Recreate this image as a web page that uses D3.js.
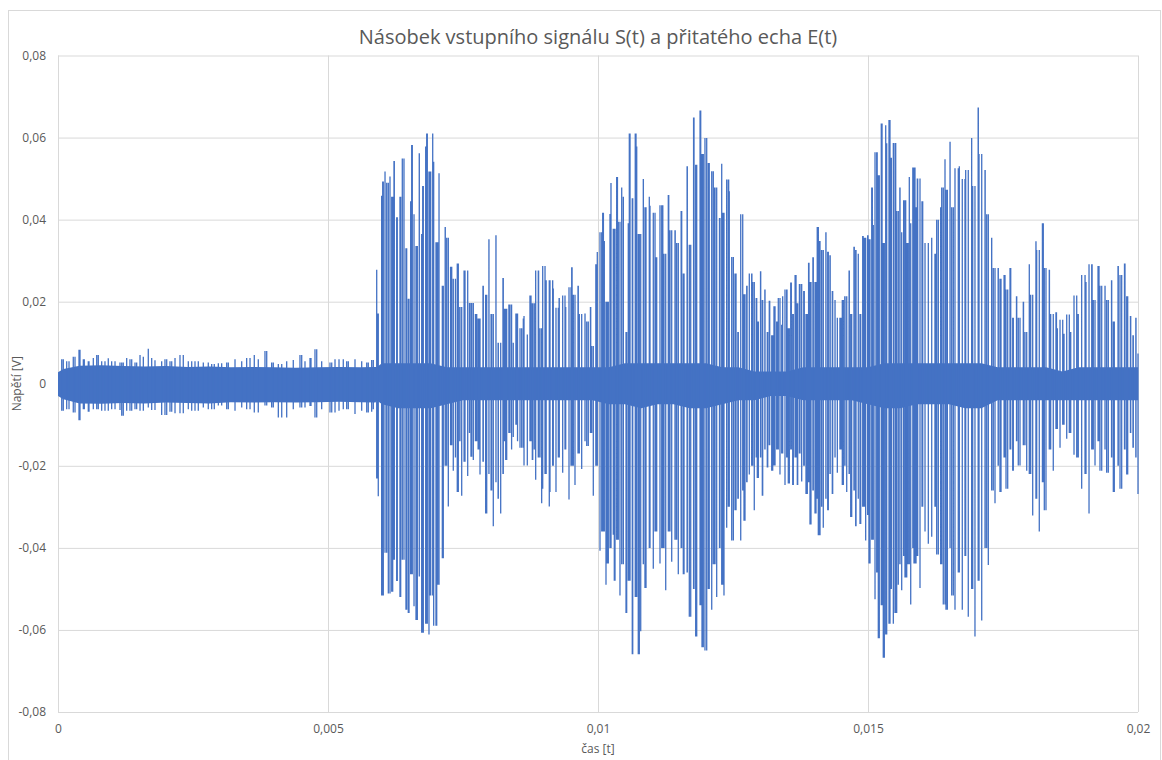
<!DOCTYPE html>
<html>
<head>
<meta charset="utf-8">
<script src="https://cdn.jsdelivr.net/npm/d3@7"></script>
<style>
  body { margin: 0; background: #fff; }
  svg text { font-family: "Open Sans", "Noto Sans", sans-serif; fill: #595959; }
</style>
</head>
<body>
<svg id="chart" width="1162" height="760"></svg>
<script>
// Times are in milliseconds, voltages in millivolts.
const xTicks = [0, 0.005, 0.01, 0.015, 0.02];           // s
const yTicks = [-0.08, -0.06, -0.04, -0.02, 0, 0.02, 0.04, 0.06, 0.08]; // V

// Solid core of the trace (upper / lower edge of the dense band)
const bandTime = [0,0.1,0.4,0.8,1.2,1.6,2.0,2.4,2.8,3.2,3.6,4.0,4.4,4.8,5.2,5.6,5.88,
  5.9,6.0,6.3,6.6,6.9,7.2,7.5,7.8,8.1,8.4,8.7,9.0,9.3,9.6,9.9,10.2,10.5,10.8,11.1,11.4,11.7,12.0,
  12.3,12.6,12.9,13.2,13.5,13.8,14.1,14.4,14.7,15.0,15.3,15.6,15.9,16.2,16.5,16.8,17.1,17.4,17.7,
  18.0,18.3,18.6,18.9,19.2,19.5,19.8,20];
const bandHigh = [2.8,3.6,4.4,4.5,4.3,4.2,4.3,4.1,4.2,4.0,4.1,4.0,3.9,4.0,4.1,4.0,4.1,
  4,5, 5,5,5,4,4,4,4,4,4,4,4,4,4, 4,5,5,5,5,5,5,4, 4,3,3,3,4,4,4,4, 4,5,5,5,5,5,5,5,
  4,4,4,4,3,4,4,4,4, 4];
const bandLow = [-3.0,-3.8,-4.8,-4.9,-4.7,-4.8,-4.6,-4.7,-4.8,-4.5,-4.6,-4.5,-4.6,-4.5,-4.4,-4.5,-4.6,
  -4,-5, -6,-6,-6,-5,-4,-4,-4,-4,-4,-4,-4,-4,-4, -5,-5,-6,-5,-5,-6,-6,-5, -4,-4,-3,-3,-4,-4,-4,-4,
  -5,-6,-6,-5,-5,-5,-6,-6, -4,-4,-4,-4,-4,-4,-4,-4,-4, -4];

// Noise extremes before the echo arrives [ms, mV]
const noiseHigh = [[0.098,6.0],[0.204,5.5],[0.315,6.6],[0.389,8.3],[0.469,6.0],[0.574,5.5],[0.654,6.3],
  [0.746,7.0],[0.809,5.5],[0.931,6.2],[1.056,5.5],[1.180,5.2],[1.272,6.3],[1.365,6.0],[1.426,5.2],
  [1.519,7.0],[1.580,6.6],[1.672,8.5],[1.735,6.3],[1.796,5.7],[1.920,5.5],[2.013,6.0],[2.106,5.5],
  [2.167,6.3],[2.320,7.0],[2.413,5.5],[2.476,5.5],[2.598,5.5],[2.691,5.2],[2.783,5.2],[2.894,4.8],
  [3.031,5.0],[3.154,5.2],[3.278,6.0],[3.402,5.5],[3.494,6.3],[3.635,7.0],[3.709,6.0],[3.865,8.0],
  [3.987,5.2],[4.143,4.8],[4.235,5.5],[4.357,5.8],[4.481,7.0],[4.574,5.5],[4.685,6.3],[4.791,8.4],
  [4.883,5.5],[5.037,5.2],[5.130,6.0],[5.283,6.0],[5.376,5.5],[5.500,6.0],[5.624,5.5],[5.717,5.2],
  [5.809,5.8]];
const noiseLow = [[0.069,-6.6],[0.161,-6.2],[0.283,-7.0],[0.407,-8.9],[0.487,-6.2],[0.561,-6.8],
  [0.717,-6.2],[0.870,-6.6],[0.994,-6.2],[1.148,-6.4],[1.209,-7.8],[1.333,-6.6],[1.457,-6.2],
  [1.580,-6.6],[1.672,-5.8],[1.796,-6.4],[1.981,-7.6],[2.074,-6.8],[2.259,-7.2],[2.413,-6.2],
  [2.537,-6.6],[2.691,-5.8],[2.846,-6.2],[2.969,-5.3],[3.124,-6.2],[3.278,-6.6],[3.402,-5.8],
  [3.556,-6.2],[3.709,-7.0],[3.833,-5.3],[3.957,-5.8],[4.080,-8.2],[4.235,-8.2],[4.357,-6.2],
  [4.513,-5.8],[4.667,-5.4],[4.759,-8.2],[4.883,-6.2],[5.069,-7.0],[5.204,-6.6],[5.346,-6.2],
  [5.500,-7.4],[5.624,-6.6],[5.746,-7.0],[5.809,-6.8],[5.839,-6.2]];

// Extremes of the signal x echo product [ms, mV]
const echoHigh = [[5.902,27.8],[5.920,17.1],[5.994,45.8],[6.013,49.3],[6.056,51.7],[6.087,49],[6.148,50.5],
  [6.180,45.6],[6.228,54.3],[6.272,40.6],[6.333,45.6],[6.407,54.9],[6.444,33],[6.487,20.7],[6.531,44.5],
  [6.561,58.2],[6.593,41.3],[6.654,33.6],[6.691,56.2],[6.735,36.5],[6.765,48.2],[6.809,57.8],[6.839,61],
  [6.889,51.7],[6.939,61],[6.957,54.1],[7.013,34.5],[7.056,51.3],[7.135,23.9],[7.172,38.2],[7.198,35.6],
  [7.291,28.5],[7.320,25.6],[7.413,29.3],[7.444,18.7],[7.537,27.6],[7.648,19.7],[7.754,17],[7.796,15.9],
  [7.876,23.9],[7.920,21.7],[7.981,35.2],[8.031,17],[8.111,36.2],[8.154,10],[8.246,25.8],[8.291,18.3],
  [8.370,19.3],[8.431,10],[8.494,17.1],[8.587,13.5],[8.617,15.9],[8.630,16.5],[8.691,12],[8.759,21.5],
  [8.784,19.6],[8.894,27.6],[8.926,13.5],[9.019,28.7],[9.037,25.2],[9.161,25.2],[9.172,23.2],[9.265,18.5],
  [9.283,20.9],[9.389,21.5],[9.402,18.7],[9.500,23.5],[9.513,28.4],[9.543,21.7],[9.635,23.9],[9.654,17],
  [9.759,17.1],[9.791,15.2],[9.865,18.7],[9.883,9.2],[9.976,29.1],[9.987,32.1],[10.069,36.9],[10.087,41.7],
  [10.117,34.8],[10.172,20],[10.222,41.4],[10.241,48.9],[10.302,37.8],[10.346,50.4],[10.376,39.5],
  [10.439,47.8],[10.469,45.6],[10.519,12.6],[10.561,39.1],[10.593,61],[10.635,45.2],[10.704,61],
  [10.717,57.8],[10.765,36.5],[10.839,49.9],[10.870,43],[10.950,45.6],[10.963,43.4],[11.056,41.7],
  [11.087,30.8],[11.180,43.5],[11.222,31.7],[11.302,46],[11.333,37.4],[11.426,37.4],[11.457,34.3],
  [11.550,42.1],[11.580,26.9],[11.654,53],[11.691,33.9],[11.778,64.9],[11.809,53.4],[11.902,66.6],
  [11.926,56],[12.013,59.9],[12.043,53.8],[12.135,51.8],[12.167,47.8],[12.259,40.4],[12.291,53.6],
  [12.309,41.7],[12.413,49.8],[12.431,46.9],[12.506,30.9],[12.556,26.9],[12.598,12.6],[12.680,41.3],
  [12.704,21.8],[12.754,23.9],[12.846,26.9],[12.865,24.8],[12.939,20.9],[12.950,15.2],[13.013,27.4],
  [13.043,20.4],[13.093,23],[13.143,12.6],[13.172,20.2],[13.235,11.8],[13.259,18.9],[13.309,15.2],
  [13.339,20.9],[13.402,14.4],[13.420,21.3],[13.494,23],[13.524,13.5],[13.569,24.7],[13.606,17],
  [13.667,26.5],[13.698,19.6],[13.741,24.3],[13.820,22.6],[13.876,17],[13.907,29.5],[13.926,24.8],
  [13.987,30.8],[14.037,24.8],[14.080,38.2],[14.111,34.8],[14.143,32.6],[14.222,36.9],[14.254,32.2],
  [14.296,31.3],[14.339,22.6],[14.389,20.4],[14.432,16.1],[14.500,16.1],[14.543,20.4],[14.574,21.3],
  [14.654,27.6],[14.680,17],[14.746,33.4],[14.772,32.6],[14.820,31.7],[14.852,17],[14.902,36],
  [14.932,35.6],[14.994,36.2],[15.019,35.2],[15.069,47.8],[15.098,38.7],[15.161,56.4],[15.191,50.8],
  [15.246,63.4],[15.283,34.3],[15.328,63],[15.346,58.6],[15.407,64.3],[15.432,55.1],[15.500,58.7],
  [15.531,42.1],[15.593,47.8],[15.624,36.9],[15.685,44.7],[15.717,34.3],[15.765,50.4],[15.791,39.1],
  [15.852,52.7],[15.889,43],[15.913,50],[16.013,44.5],[16.056,34.3],[16.180,35.6],[16.254,31.7],
  [16.272,40],[16.346,43],[16.365,47.8],[16.426,54.7],[16.444,47.3],[16.519,59],[16.550,43],
  [16.672,52.5],[16.691,53],[16.796,49.9],[16.809,52.1],[16.920,59.9],[16.939,48.2],[17.043,67.3],
  [17.056,56],[17.167,52.1],[17.198,41.3],[17.291,35.6],[17.320,28.2],[17.413,28.2],[17.444,25.6],
  [17.537,26.5],[17.556,23],[17.643,28.2],[17.691,16.1],[17.754,21.3],[17.783,16.1],[17.876,20],
  [17.907,12.6],[17.987,29.1],[18.013,21.7],[18.111,34.7],[18.124,32.6],[18.246,39.1],[18.265,28.2],
  [18.357,27.8],[18.383,17],[18.481,17.4],[18.506,13.5],[18.606,15.6],[18.630,12.2],[18.728,16.9],
  [18.754,12.6],[18.865,21.5],[18.894,17],[19.019,26.5],[19.037,24.8],[19.143,29.1],[19.172,20.4],
  [19.278,28.7],[19.296,23.9],[19.389,23.9],[19.420,20.4],[19.513,25.2],[19.543,15.2],[19.635,28.7],
  [19.667,26.5],[19.759,29.3],[19.791,21.3],[19.865,16.5],[19.907,11.8],[19.963,16.1],[20.000,7.4]];
const echoLow = [[5.913,-23.1],[5.931,-27.4],[6.024,-51.6],[6.087,-41.2],[6.117,-51.1],[6.198,-50.7],
  [6.222,-42.9],[6.283,-48.1],[6.346,-52],[6.376,-42.9],[6.457,-55.1],[6.500,-55.9],[6.550,-46.4],
  [6.593,-54.2],[6.630,-57.6],[6.69,-47],[6.754,-60.7],[6.828,-58.5],[6.870,-61.1],[6.902,-51.6],
  [7.000,-59],[7.031,-49],[7.117,-42.5],[7.17,-20],[7.228,-29.9],[7.27,-15],[7.320,-21.2],[7.36,-18],
  [7.394,-26.4],[7.44,-14],[7.476,-27.3],[7.52,-19],[7.587,-22.5],[7.62,-12],[7.661,-17.8],[7.691,-18.6],
  [7.73,-14],[7.78,-16],[7.815,-22.1],[7.87,-19],[7.939,-31.6],[7.98,-22],[8.02,-26],[8.061,-34.7],
  [8.11,-24],[8.15,-28],[8.198,-31.6],[8.24,-22],[8.27,-14],[8.309,-18.6],[8.35,-12],[8.40,-16],
  [8.431,-13],[8.48,-10],[8.51,-14],[8.556,-15.6],[8.691,-19.9],[8.74,-14],[8.791,-18.6],[8.82,-16],
  [8.846,-23.4],[8.90,-18],[8.957,-29.1],[8.976,-25.6],[9.04,-22],[9.098,-29.9],[9.111,-26.4],[9.16,-20],
  [9.222,-26.4],[9.28,-18],[9.346,-21.7],[9.40,-16],[9.463,-28.2],[9.52,-20],[9.574,-24.7],[9.63,-17],
  [9.698,-20.8],[9.76,-14],[9.820,-15.2],[9.86,-12],[9.913,-27.3],[9.96,-20],[10.037,-40.7],[10.10,-36],
  [10.148,-49],[10.191,-43.8],[10.24,-40],[10.283,-36.8],[10.315,-48],[10.36,-38],[10.407,-51.6],
  [10.47,-44],[10.531,-55.9],[10.58,-48],[10.643,-65.9],[10.69,-52],[10.746,-65.9],[10.791,-60.3],
  [10.84,-44],[10.889,-49.8],[10.95,-40],[11.024,-45.1],[11.08,-36],[11.148,-43.8],[11.20,-40],
  [11.254,-50.3],[11.31,-36],[11.365,-43.4],[11.43,-38],[11.487,-46.4],[11.54,-40],[11.593,-46.4],
  [11.65,-46],[11.717,-56.8],[11.77,-50],[11.828,-61.6],[11.89,-54],[11.950,-64.2],[11.981,-65],
  [12.06,-50],[12.106,-55.1],[12.16,-44],[12.198,-52],[12.25,-40],[12.309,-49],[12.333,-51.6],
  [12.383,-35.1],[12.42,-30],[12.476,-38.2],[12.537,-30.8],[12.59,-28],[12.643,-38.2],[12.68,-26],
  [12.722,-33.4],[12.76,-24],[12.802,-22.1],[12.85,-20],[12.894,-30.8],[12.93,-18],[12.969,-23],
  [13.01,-18],[13.050,-27.3],[13.09,-16],[13.135,-20.4],[13.18,-15],[13.217,-21.2],[13.278,-19.9],
  [13.32,-16],[13.370,-22.1],[13.41,-17],[13.463,-24.7],[13.50,-18],[13.543,-24.3],[13.58,-16],
  [13.617,-24.7],[13.65,-18],[13.691,-24.7],[13.73,-17],[13.772,-23.8],[13.81,-20],[13.852,-26.9],
  [13.90,-24],[13.944,-34.3],[13.98,-26],[14.019,-31.6],[14.06,-28],[14.098,-36.9],[14.14,-30],
  [14.172,-35.1],[14.22,-28],[14.265,-30.8],[14.30,-22],[14.346,-26.9],[14.39,-18],[14.432,-21.7],
  [14.48,-16],[14.524,-24.7],[14.57,-20],[14.606,-26.4],[14.65,-22],[14.698,-32.5],[14.74,-26],
  [14.778,-34.7],[14.82,-28],[14.865,-34.2],[14.91,-30],[14.957,-38.2],[15.00,-32],[15.037,-43.8],
  [15.08,-38],[15.130,-52.5],[15.17,-46],[15.209,-62],[15.26,-54],[15.302,-66.8],[15.346,-61.1],
  [15.389,-58.5],[15.43,-50],[15.469,-58.5],[15.513,-55.9],[15.561,-49],[15.59,-44],[15.624,-50.3],
  [15.66,-42],[15.698,-47.2],[15.74,-44],[15.791,-53.8],[15.83,-40],[15.870,-43.8],[15.92,-42],
  [15.963,-49.8],[16.00,-30],[16.056,-36],[16.117,-39],[16.180,-37.3],[16.24,-30],[16.302,-41.6],
  [16.35,-44],[16.394,-53.8],[16.469,-55.1],[16.52,-40],[16.580,-51.6],[16.611,-55.1],[16.68,-46],
  [16.746,-55.1],[16.80,-42],[16.857,-56.8],[16.92,-50],[16.981,-61.6],[17.04,-48],[17.106,-57.7],
  [17.17,-40],[17.228,-44.2],[17.29,-26],[17.352,-29.1],[17.41,-20],[17.463,-26.4],[17.52,-18],
  [17.587,-25.6],[17.63,-16],[17.680,-21.2],[17.75,-14],[17.815,-19.9],[17.88,-15],[17.939,-21.2],
  [18.00,-22],[18.050,-32.1],[18.11,-28],[18.172,-36],[18.23,-24],[18.296,-30.8],[18.36,-16],
  [18.431,-21.2],[18.49,-11],[18.556,-15.6],[18.62,-10],[18.680,-13.4],[18.75,-12],[18.815,-17.3],
  [18.89,-18],[18.957,-25.6],[19.02,-22],[19.093,-31.6],[19.15,-16],[19.204,-19.9],[19.26,-14],
  [19.328,-21.2],[19.39,-16],[19.450,-21.7],[19.51,-18],[19.561,-26.4],[19.63,-20],[19.698,-25.6],
  [19.75,-16],[19.809,-22.1],[19.86,-12],[19.913,-15.6],[19.96,-18],[20.000,-26.9]];

const titleText = "Násobek vstupního signálu S(t) a přitatého echa E(t)";
const xTitle = "čas [t]";
const yTitle = "Napětí [V]";

const W = 1162, H = 760;
const plot = { left: 58, right: 1138, top: 55.5, bottom: 712 };
const lineColor = "#4472C4";
const gridColor = "#D9D9D9";

const svg = d3.select("#chart");

// chart frame
svg.append("rect").attr("x", 8.5).attr("y", 10.5).attr("width", W - 10).attr("height", H)
  .attr("fill", "#fff").attr("stroke", gridColor);

const x = d3.scaleLinear().domain([0, 0.02]).range([plot.left, plot.right]);
const y = d3.scaleLinear().domain([-0.08, 0.08]).range([plot.bottom, plot.top]);
const ms = t => t / 1000, mv = v => v / 1000;

const fmt = d => d === 0 ? "0" : String(+d.toFixed(3)).replace(".", ",");

const styleAxis = g => {
  g.select(".domain").remove();
  g.selectAll(".tick line").attr("stroke", gridColor).attr("stroke-width", 1);
  g.selectAll(".tick text").attr("fill", "#595959")
    .style("font-family", '"Open Sans", sans-serif').style("font-size", "12px");
};

svg.append("g")
  .attr("transform", `translate(${plot.left},0)`)
  .call(d3.axisLeft(y).tickValues(yTicks).tickFormat(fmt)
    .tickSize(-(plot.right - plot.left)).tickPadding(12))
  .call(styleAxis);

svg.append("g")
  .attr("transform", `translate(0,${plot.bottom})`)
  .call(d3.axisBottom(x).tickValues(xTicks).tickFormat(fmt)
    .tickSize(-(plot.bottom - plot.top)).tickPadding(12))
  .call(styleAxis);

// dense core of the trace
const band = bandTime.map((t, i) => [t, bandHigh[i], bandLow[i]]);
svg.append("path")
  .attr("fill", lineColor)
  .attr("d", d3.area()
    .x(d => x(ms(d[0])))
    .y0(d => y(mv(d[2])))
    .y1(d => y(mv(d[1])))(band));

// Each extreme is reached by a near-vertical swing from the closest
// extreme of opposite sign (the samples are far denser than one pixel).
const bisect = d3.bisector(d => d[0]).center;
const swings = (from, to) => from.map(([t, v]) => {
  const o = to[bisect(to, t)];
  return [t, o[1], v];
});
const strokes = [
  ...swings(noiseHigh, noiseLow), ...swings(noiseLow, noiseHigh),
  ...swings(echoHigh, echoLow), ...swings(echoLow, echoHigh)
];
svg.append("path")
  .attr("fill", "none")
  .attr("stroke", lineColor)
  .attr("stroke-width", 1.3)
  .attr("d", strokes.map(([t, a, b]) => `M${x(ms(t))},${y(mv(a))}V${y(mv(b))}`).join(""));

// titles
svg.append("text").attr("x", (plot.left + plot.right) / 2).attr("y", 44)
  .attr("text-anchor", "middle").style("font-size", "20px").text(titleText);
svg.append("text").attr("x", (plot.left + plot.right) / 2).attr("y", 753)
  .attr("text-anchor", "middle").style("font-size", "12px").text(xTitle);
svg.append("text").attr("transform", `translate(21,${(plot.top + plot.bottom) / 2}) rotate(-90)`)
  .attr("text-anchor", "middle").style("font-size", "12px").text(yTitle);
</script>
</body>
</html>
